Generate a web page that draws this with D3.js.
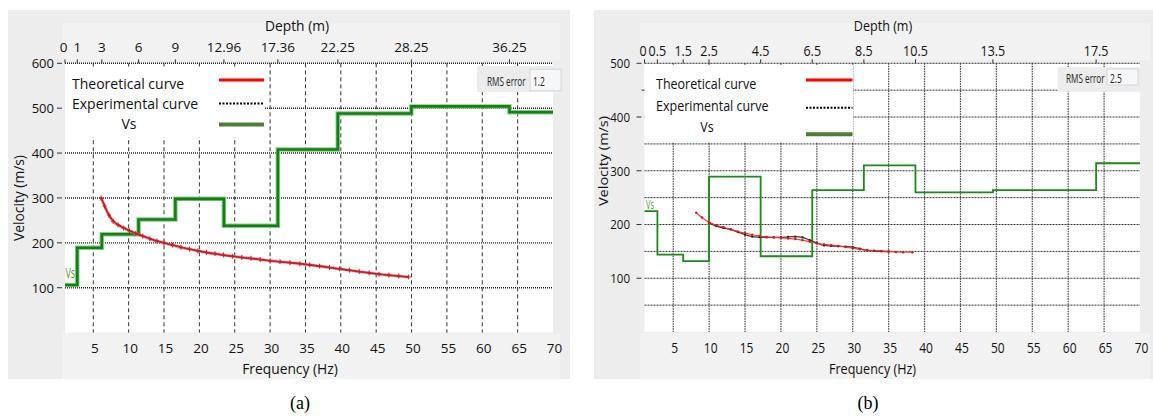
<!DOCTYPE html>
<html><head><meta charset="utf-8">
<script src="https://cdn.jsdelivr.net/npm/d3@7"></script>
<style>body{margin:0;background:#fff;} svg{display:block;}</style>
</head><body>
<svg id="c" width="1153" height="416"></svg>
<script>
// ---------------- DATA ----------------
const freqTicks = [5,10,15,20,25,30,35,40,45,50,55,60,65,70];

// panel (a)
const depthTicksA = [0,1,3,6,9,12.96,17.36,22.25,28.25,36.25];
const depthLabelsA = ["0","1","3","6","9","12.96","17.36","22.25","28.25","36.25"];
const layerTopsA = [0,1,3,6,9,12.96,17.36,22.25,28.25,36.25];
const vsA = [106,189,219,252,298,238,408,488,504,491];
const velTicksA = [100,200,300,400,500,600];
const velGridA = [100,200,300,400,500,600];
const expFreqA = [6.1,6.6,7.2,7.8,8.5,9.3,10.1,11,12,13,14,15,16.2,17.4,18.6,19.8,21,22.2,23.4,24.7,26,27.3,28.6,30,31.4,32.8,34.2,35.6,37,38.4,39.8,41.2,42.6,44,45.4,46.8,48.2,49.6];
const expVelA  = [300,282,262,248,240,233,227,221,215,209,204,200,195,190,186,182,178.5,176,173,170,167.5,165.5,163,160,158,156,153.5,151,148,145,142,139,136,133,130,128,126,124];
const theoFreqA = [6.1,7,8,9,10,12,14,16,18,20,23,26,30,35,40,45,49.6];
const theoVelA  = [302,268,246,236,228,215,204,196,188,181.5,173.5,167.5,160,152,141.5,131,123.5];
const rmsA = "1.2";

// panel (b)
const depthTicksB = [0,0.5,1.5,2.5,4.5,6.5,8.5,10.5,13.5,17.5];
const depthLabelsB = ["0","0.5","1.5","2.5","4.5","6.5","8.5","10.5","13.5","17.5"];
const layerTopsB = [0,0.5,1.5,2.5,4.5,6.5,8.5,10.5,13.5,17.5];
const vsB = [225,144,132,289,141,264,310,260,264,314];
const velTicksB = [100,200,300,400,500];
const velGridB = [50,100,150,200,250,300,350,400,450,500];
const expFreqB = [10,11,12,13,14,15,16,17,18,19,20,21,22,23,24,25,26,27,28,29,30,31,32,33,34,35];
const expVelB  = [203,197,193.5,191,186,181,177.5,176.5,176,176,176,177,177.5,176,171,165.5,161,160,159.5,159,158,155,152,151,150,149.5];
const theoFreqB = [8.2,9,10,11,12,13,14,15,16,17,18,19,20,21,22,23,24,25,26,27,28,29,30,31,32,33,34,35,36,37,38.3];
const theoVelB  = [222,213,204,199,195,191,187,184,181,178.5,177,176,175,174,173,171,168,165,163,161.5,160,158,156,154,152.5,151.5,151,150,149,148.5,148.5];
const rmsB = "2.5";

const legendLabels = ["Theoretical curve","Experimental curve","Vs"];

// ---------------- DRAW ----------------
const svg = d3.select("#c");
const FONT = "'Open Sans','Noto Sans',sans-serif";

function txt(g, x, y, s, o) {
  o = o || {};
  const sx = o.sx || 1, sy = o.sy || 1, rot = o.rot || 0;
  return g.append("text")
    .attr("transform", `translate(${x},${y})` + (rot ? ` rotate(${rot})` : "") + ` scale(${sx},${sy})`)
    .attr("text-anchor", o.anchor || "middle")
    .attr("dominant-baseline", "central")
    .style("font-family", o.family || FONT)
    .style("font-size", (o.size || 12) + "px")
    .style("fill", o.fill || "#111")
    .text(s);
}

function panel(P) {
  const g = svg.append("g");
  // backgrounds
  g.append("rect").attr("x", P.bg[0]).attr("y", P.bg[1]).attr("width", P.bg[2]-P.bg[0]).attr("height", P.bg[3]-P.bg[1]).attr("fill", "#ededed");
  g.append("rect").attr("x", P.band[0]).attr("y", 23).attr("width", P.band[1]-P.band[0]).attr("height", P.y1 - 23 - 3).attr("fill", "#f2f2f2");
  g.append("rect").attr("x", P.band[0]).attr("y", P.y0 + 1).attr("width", P.band[1]-P.band[0]).attr("height", P.bg[3] - P.y0 - 1).attr("fill", "#f2f2f2");
  g.append("rect").attr("x", P.x0).attr("y", P.y1).attr("width", P.x1-P.x0).attr("height", P.y0-P.y1).attr("fill", "#fff");

  const fx = d3.scaleLinear().domain([1,70]).range([P.x0, P.x1]);
  const dx = d3.scaleLinear().domain([0, P.depthMax]).range([P.x0, P.x1]);
  const vy = d3.scaleLinear().domain([0, P.vMax]).range([P.y0, P.y1]);

  // grid
  const grid = g.append("g");
  grid.selectAll("line.v").data(freqTicks.filter(d => d < 70)).join("line")
    .attr("x1", d => fx(d)).attr("x2", d => fx(d)).attr("y1", P.y1).attr("y2", P.y0)
    .attr("stroke", P.vGrid.color).attr("stroke-width", P.vGrid.w).attr("stroke-dasharray", P.vGrid.dash);
  grid.selectAll("line.h").data(P.velGrid).join("line")
    .attr("x1", P.x0).attr("x2", P.x1).attr("y1", d => vy(d)).attr("y2", d => vy(d))
    .attr("stroke", P.hGrid.color).attr("stroke-width", P.hGrid.w).attr("stroke-dasharray", P.hGrid.dash);

  // top (depth) axis ticks
  g.selectAll("line.dt").data(P.depthTicks).join("line")
    .attr("x1", d => dx(d)).attr("x2", d => dx(d)).attr("y1", P.y1 - 4).attr("y2", P.y1)
    .attr("stroke", "#333").attr("stroke-width", 1);
  P.depthTicks.forEach((d, i) => {
    let x = dx(d);
    if (i === 0) x -= 1.5;
    txt(g, x, P.topLabelY, P.depthLabels[i], {size: P.topSize, sx: P.tsx, sy: P.tsy});
  });
  txt(g, P.depthTitleX, 25, "Depth (m)", {size: P.titleSize, sx: P.tsx, sy: P.tsy});

  // left axis ticks
  g.selectAll("line.yt").data(P.velTicks).join("line")
    .attr("x1", P.x0 - 8).attr("x2", P.x0 - 3).attr("y1", d => vy(d)).attr("y2", d => vy(d))
    .attr("stroke", "#333").attr("stroke-width", 1);
  P.velTicks.forEach(v => txt(g, P.yLabelX, vy(v), String(v), {anchor: "end", size: P.tickSize, sx: P.tsx, sy: P.tsy}));
  if (P.extraTick) {
    g.append("line").attr("x1", P.x0 - 3).attr("x2", P.x0 + 3).attr("y1", vy(P.extraTick)).attr("y2", vy(P.extraTick)).attr("stroke", "#333");
  }
  txt(g, P.velTitle[0], P.velTitle[1], "Velocity (m/s)", {size: P.titleSize, rot: -90, sx: P.tsy, sy: P.tsx});

  // bottom axis labels
  freqTicks.forEach(f => txt(g, fx(f) + 1.5, P.botLabelY, String(f), {size: P.botSize, sx: P.tsx, sy: P.tsy}));
  txt(g, P.freqTitleX, 368, "Frequency (Hz)", {size: P.titleSize, sx: P.tsx, sy: P.tsy});

  // legend
  const L = P.legend;
  g.append("rect").attr("x", L.x0).attr("y", L.y0).attr("width", L.x1 - L.x0).attr("height", L.y1 - L.y0).attr("fill", "#fff");
  txt(g, L.tx, L.rows[0], legendLabels[0], {anchor: "start", size: L.size, sx: P.tsx, sy: P.tsy});
  txt(g, L.tx, L.rows[1], legendLabels[1], {anchor: "start", size: L.size, sx: P.tsx, sy: P.tsy});
  txt(g, L.vsx, L.rows[2], legendLabels[2], {size: L.size, sx: P.tsx, sy: P.tsy});
  g.append("line").attr("x1", L.sx0).attr("x2", L.sx1).attr("y1", L.samples[0]).attr("y2", L.samples[0]).attr("stroke", "#ff0000").attr("stroke-width", 3);
  g.append("line").attr("x1", L.sx0).attr("x2", L.sx1).attr("y1", L.samples[1]).attr("y2", L.samples[1]).attr("stroke", "#000").attr("stroke-width", 2).attr("stroke-dasharray", "2,1.5");
  g.append("line").attr("x1", L.sx0).attr("x2", L.sx1).attr("y1", L.samples[2]).attr("y2", L.samples[2]).attr("stroke", "#4d7d38").attr("stroke-width", 4);

  // RMS box
  const R = P.rms;
  g.append("rect").attr("x", R.x0).attr("y", R.y0).attr("width", R.x1 - R.x0).attr("height", R.y1 - R.y0).attr("fill", "#ececec");
  g.append("rect").attr("x", R.ix0).attr("y", R.iy0).attr("width", R.x1 - 2 - R.ix0).attr("height", R.iy1 - R.iy0).attr("fill", "#f7f7f7").attr("stroke", "#cfd8e0").attr("stroke-width", 1);
  txt(g, R.tx, R.ty, "RMS error", {anchor: "start", size: 10, sx: 0.82, sy: 1.35, fill: "#222"});
  txt(g, R.ix0 + 3, R.ty, P.rmsVal, {anchor: "start", size: 10, sx: 0.85, sy: 1.35, fill: "#222"});

  // Vs step line
  const vsPts = P.layerTops.map((d, i) => [d, P.vs[i]]);
  vsPts.push([P.depthMax, P.vs[P.vs.length - 1]]);
  const stepLine = d3.line().x(d => dx(d[0])).y(d => vy(d[1])).curve(d3.curveStepAfter);
  if (P.name === "a") {
    g.append("path").attr("d", stepLine(vsPts)).attr("fill", "none").attr("stroke", "#8cc78c").attr("stroke-width", 4.5);
    g.append("path").attr("d", stepLine(vsPts)).attr("fill", "none").attr("stroke", "#0f820f").attr("stroke-width", 2.6);
  } else {
    g.append("path").attr("d", stepLine(vsPts)).attr("fill", "none").attr("stroke", "#1b8a1b").attr("stroke-width", 1.8);
  }

  // curves
  const expPts = P.expF.map((f, i) => [f, P.expV[i]]);
  const theoPts = P.theoF.map((f, i) => [f, P.theoV[i]]);
  const curve = d3.line().x(d => fx(d[0])).y(d => vy(d[1])).curve(d3.curveMonotoneX);
  if (P.name === "a") {
    g.append("path").attr("d", curve(expPts)).attr("fill", "none").attr("stroke", "#999").attr("stroke-width", 3.2).attr("opacity", 0.7);
    g.append("path").attr("d", curve(expPts)).attr("fill", "none").attr("stroke", "#000").attr("stroke-width", 1).attr("stroke-dasharray", "1.5,1");
    g.append("path").attr("d", curve(theoPts)).attr("fill", "none").attr("stroke", "#e3121b").attr("stroke-width", 1.6);
    const m = g.append("g");
    expPts.forEach(p => {
      const x = fx(p[0]), y = vy(p[1]);
      m.append("line").attr("x1", x).attr("x2", x).attr("y1", y - 2.5).attr("y2", y + 2.5).attr("stroke", "#e3121b").attr("stroke-width", 1);
      m.append("line").attr("x1", x - 2).attr("x2", x + 2).attr("y1", y).attr("y2", y).attr("stroke", "#e3121b").attr("stroke-width", 1);
    });
  } else {
    g.append("path").attr("d", curve(expPts)).attr("fill", "none").attr("stroke", "#3a3a3a").attr("stroke-width", 1.3);
    g.append("g").selectAll("rect").data(expPts).join("rect")
      .attr("x", d => fx(d[0]) - 1).attr("y", d => vy(d[1]) - 1).attr("width", 2).attr("height", 2).attr("fill", "#222");
    g.append("path").attr("d", curve(theoPts)).attr("fill", "none").attr("stroke", "#ff2f2f").attr("stroke-width", 1.2).attr("opacity", 0.9);
    g.append("g").selectAll("circle").data(theoPts).join("circle")
      .attr("cx", d => fx(d[0])).attr("cy", d => vy(d[1])).attr("r", 1.2).attr("fill", "#e81010");
  }

  // Vs label inside plot
  txt(g, P.vsLabel[0], P.vsLabel[1], "Vs", {anchor: "start", size: P.vsLabel[2], sx: 0.75, sy: 1.2, fill: "#4f9e2a"});

  // caption
  txt(g, P.capX, 403, P.caption, {size: 18, family: "'Liberation Serif','Times New Roman',serif", fill: "#000"});
}

panel({
  name: "a", caption: "(a)", capX: 300,
  bg: [8, 10, 570, 379], band: [62, 560],
  x0: 65, x1: 553, y1: 63.3, y0: 332.6,
  depthMax: 39.8, vMax: 600,
  depthTicks: depthTicksA, depthLabels: depthLabelsA,
  layerTops: layerTopsA, vs: vsA,
  velTicks: velTicksA, velGrid: velGridA,
  expF: expFreqA, expV: expVelA, theoF: theoFreqA, theoV: theoVelA,
  rmsVal: rmsA,
  vGrid: {color: "#333", w: 1, dash: "4,3"},
  hGrid: {color: "#222", w: 1.4, dash: "1,1"},
  topLabelY: 46.5, botLabelY: 348, yLabelX: 54, tickSize: 13, topSize: 13.5, botSize: 13.5,
  titleSize: 13.8, tsx: 1, tsy: 1,
  depthTitleX: 297, freqTitleX: 290, velTitle: [18, 198],
  legend: {x0: 65, x1: 265, y0: 66.5, y1: 137, tx: 72, vsx: 129, rows: [83, 103, 123], size: 14, sx0: 219, sx1: 264, samples: [80, 103.5, 124.5]},
  rms: {x0: 477, x1: 563, y0: 66, y1: 92, ix0: 530, iy0: 69.3, iy1: 90.7, tx: 487, ty: 81},
  vsLabel: [65.5, 273, 12]
});

panel({
  name: "b", caption: "(b)", capX: 868,
  bg: [594, 10, 1153, 379], band: [640, 1150],
  x0: 644.5, x1: 1140, y1: 63.3, y0: 332,
  depthMax: 19.2, vMax: 500,
  depthTicks: depthTicksB, depthLabels: depthLabelsB,
  layerTops: layerTopsB, vs: vsB,
  velTicks: velTicksB, velGrid: velGridB, extraTick: 450,
  expF: expFreqB, expV: expVelB, theoF: theoFreqB, theoV: theoVelB,
  rmsVal: rmsB,
  vGrid: {color: "#444", w: 1.2, dash: "1.5,1"},
  hGrid: {color: "#333", w: 1, dash: "2,1"},
  topLabelY: 50.5, botLabelY: 348, yLabelX: 630, tickSize: 11.5, topSize: 12.5, botSize: 12,
  titleSize: 12.6, tsx: 1, tsy: 1.15,
  depthTitleX: 883, freqTitleX: 872.5, velTitle: [603, 161],
  legend: {x0: 644.5, x1: 853, y0: 65, y1: 142, tx: 656, vsx: 707, rows: [83.3, 106, 127], size: 12.5, sx0: 806, sx1: 852.5, samples: [80, 107.7, 134.3]},
  rms: {x0: 1057.7, x1: 1140, y0: 67.3, y1: 91.7, ix0: 1107, iy0: 69, iy1: 85, tx: 1066, ty: 77.5},
  vsLabel: [646, 204, 10]
});
</script>
</body></html>
